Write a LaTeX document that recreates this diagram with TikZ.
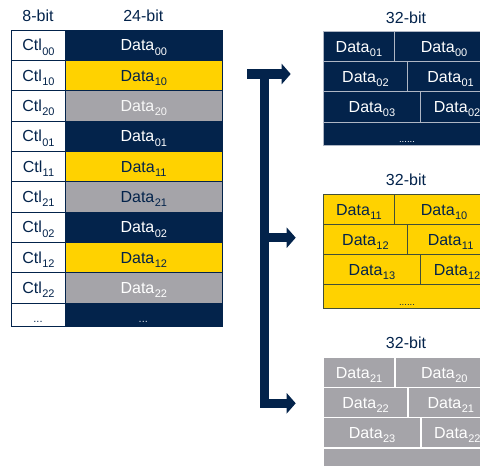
\documentclass[tikz,border=0pt]{standalone}
\usepackage{fontspec}
\setmainfont{Liberation Sans}
\usetikzlibrary{arrows.meta}
\definecolor{stnavy}{HTML}{03234B}
\definecolor{styellow}{HTML}{FFD200}
\definecolor{stgray}{HTML}{A5A4A9}
\definecolor{stlight}{HTML}{AEB6C4}
% lowered index digits after a word
\newcommand\lowsub[1]{\kern0.4pt\raisebox{-4.3pt}{\fontsize{11}{11}\selectfont #1}}

\begin{document}
\begin{tikzpicture}[x=1pt,y=-1pt,
  font=\fontsize{16}{16}\selectfont,
  txt/.style={inner sep=0pt, text height=11.5pt, text depth=0pt},
  hdr/.style={txt, text=stnavy},
  cellbox/.style={txt, anchor=north west, draw=stnavy, line width=0.9pt},
  ctlcell/.style={cellbox, fill=white, text=stnavy, minimum width=54pt, minimum height=30.35pt},
  datacell/.style={cellbox, minimum width=156.7pt, minimum height=30.35pt},
  dots/.style={inner sep=0pt, anchor=base, font=\fontsize{11}{11}\selectfont},
  busline/.style={draw=stnavy, line width=9.5pt, line join=miter,
    -{Triangle[length=9pt,width=20pt]}}
]
\useasboundingbox (0,0) rectangle (480,466);

% ---- 8-bit control / 24-bit data table ----
\node[hdr] (h8)  at (38,15.8)    {8-bit};
\node[hdr] (h24) at (143.3,15.8) {24-bit};

\foreach \i/\id/\fc/\tc in {0/00/stnavy/white, 1/10/styellow/stnavy, 2/20/stgray/white!92!stgray,
                            3/01/stnavy/white, 4/11/styellow/stnavy, 5/21/stgray/stnavy,
                            6/02/stnavy/white, 7/12/styellow/stnavy, 8/22/stgray/white}{
  \node[ctlcell] (ctl\id) at (11,{29.5+30.35*\i}) {Ctl\lowsub{\id}};
  \node[datacell, fill=\fc, text=\tc] (data\id) at (65,{29.5+30.35*\i}) {Data\lowsub{\id}};
}
\node[ctlcell, minimum height=23.4pt] (ctlmore) at (11,302.65) {};
\node[datacell, minimum height=23.4pt, fill=stnavy] (datamore) at (65,302.65) {};
\node[dots, text=stnavy] (ctldots) at (38,322.8) {...};
\node[dots, text=white!85!stnavy] (datadots) at (143.3,322.8) {...};

% ---- 32-bit packed words, one block per stream ----
\begin{scope}
\clip (0,0) rectangle (480,466);
\foreach \b/\T/\fc/\tc/\lc/\lw in {0/31/stnavy/white/stlight/0.9pt,
                                   1/193.7/styellow/stnavy/stnavy!75!styellow/0.9pt,
                                   2/356.7/stgray/white/white/1.3pt}{
  \begin{scope}[every node/.append style={txt, anchor=north west, fill=\fc, text=\tc,
                 draw=\lc, line width=\lw}]
    \node[minimum width=71.6pt, minimum height=30.2pt] (w\b a1) at (322.7,\T) {Data\lowsub{\b1}};
    \node[minimum width=98.7pt, minimum height=30.2pt] (w\b b1) at (394.3,\T) {Data\lowsub{\b0}};
    \node[minimum width=84.6pt, minimum height=30pt] (w\b a2) at (322.7,{\T+30.2}) {Data\lowsub{\b2}};
    \node[minimum width=85.7pt, minimum height=30pt] (w\b b2) at (407.3,{\T+30.2}) {Data\lowsub{\b1}};
    \node[minimum width=97.6pt, minimum height=30.3pt] (w\b a3) at (322.7,{\T+60.2}) {Data\lowsub{\b3}};
    \node[minimum width=72.7pt, minimum height=30.3pt] (w\b b3) at (420.3,{\T+60.2}) {Data\lowsub{\b2}};
    \node[minimum width=170.3pt, minimum height=23.5pt] (w\b r4) at (322.7,{\T+90.5}) {};
  \end{scope}
  \node[dots, font=\fontsize{9.6}{9.6}\selectfont, text=\tc] (w\b dots) at (407,{\T+111.5}) {......};
  \node[hdr] (w\b hdr) at (406,{\T-13.5}) {32-bit};
}
\end{scope}

% ---- distribution bus ----
\coordinate (stemtop) at (264.7,69.25);
\coordinate (barleft) at (247,74);
\coordinate (tip0) at (290.7,74);
\coordinate (tap1) at (264.7,237.7);
\coordinate (tip1) at (295.7,237.7);
\coordinate (corner) at (264.7,403.3);
\coordinate (tip2) at (295.7,403.3);
\draw[busline] (barleft) -- (tip0);
\draw[busline] (stemtop) -- (corner) -- (tip2);
\draw[busline] (tap1) -- (tip1);
\end{tikzpicture}
\end{document}
